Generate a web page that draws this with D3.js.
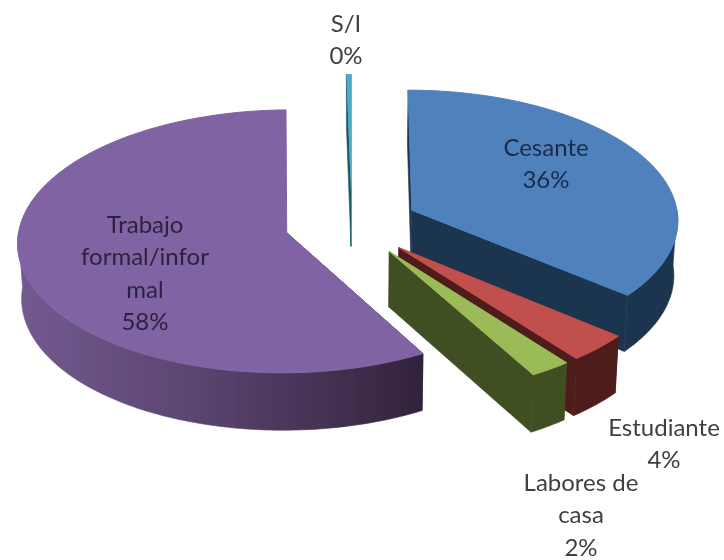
<!DOCTYPE html>
<html>
<head>
<meta charset="utf-8">
<script src="https://cdn.jsdelivr.net/npm/d3@7"></script>
<style>
  html, body { margin: 0; padding: 0; background: #fff; }
  svg { display: block; }
  text { font-family: Lato, "Open Sans", sans-serif; font-size: 24px; text-anchor: middle; dominant-baseline: middle; }
</style>
</head>
<body>
<div id="chart"></div>
<script>
// data, clockwise from 12 o'clock
var categories = ["Cesante", "Estudiante", "Labores de casa", "Trabajo formal/informal", "S/I"];
var values = [36, 3.5, 2.3, 57.9, 0.3];
var percentLabels = ["36%", "4%", "2%", "58%", "0%"];
var labelLines = [["Cesante"], ["Estudiante"], ["Labores de", "casa"], ["Trabajo", "formal/infor", "mal"], ["S/I"]];

var topColors = ["#4f81bd", "#c0504d", "#9bbb59", "#8064a2", "#4bacc6"];
var wallColors = ["#1f3550", "#4f1d1b", "#414f22", "url(#purpleWall)", "#1d5565"];

var width = 724, height = 560;
var centerX = 351.6, centerY = 224;
var R = 267, explode = 67, tilt = 0.486, depth = 55;
var persp = 0.066, floorShrink = 0.012;

var svg = d3.select("#chart").append("svg").attr("width", width).attr("height", height);
var defs = svg.append("defs");
defs.append("filter").attr("id", "soft").append("feGaussianBlur").attr("stdDeviation", 0.6);
var grad = defs.append("linearGradient").attr("id", "purpleWall").attr("gradientUnits", "userSpaceOnUse")
    .attr("x1", 17).attr("x2", 420).attr("y1", 0).attr("y2", 0);
grad.append("stop").attr("offset", "0%").attr("stop-color", "#735a90");
grad.append("stop").attr("offset", "45%").attr("stop-color", "#5a4470");
grad.append("stop").attr("offset", "100%").attr("stop-color", "#33233d");

// world point on the pie plane -> screen, floor=true gives the lower rim
function project(X, Y, floor) {
    var s = 1 / (1 - persp * Y / R);
    var f = floor ? 1 - floorShrink : 1;
    return [centerX + X * s * f, centerY + Y * tilt * s * f + (floor ? depth * s : 0)];
}

var pie = d3.pie().sort(null).value(function(d){ return d; });
var slices = pie(values);
var line = d3.line();

var marks = svg.append("g").attr("filter", "url(#soft)");

function sweep(a0, a1) {
    var steps = Math.max(2, Math.ceil((a1 - a0) * 60));
    return d3.range(steps + 1).map(function(k){ return a0 + (a1 - a0) * k / steps; });
}

// draw S/I first, it stands alone at the back
var order = [4, 0, 1, 2, 3];
order.forEach(function(i){
    var sl = slices[i];
    var mid = (sl.startAngle + sl.endAngle) / 2;
    var ox = explode * Math.sin(mid), oy = -explode * Math.cos(mid);

    function rim(a, floor) {
        return project(ox + R * Math.sin(a), oy - R * Math.cos(a), floor);
    }
    var apex = project(ox, oy, false), apexLow = project(ox, oy, true);
    var upper = sweep(sl.startAngle, sl.endAngle).map(function(a){ return rim(a, false); });

    // cut sides, the purple one at 12 o'clock looks away from us
    var cuts = i == 3 ? [sl.startAngle] : [sl.startAngle, sl.endAngle];
    cuts.forEach(function(a){
        var c = i == 3 ? "#33233d" : wallColors[i];
        marks.append("path")
            .attr("d", line([apex, rim(a, false), rim(a, true), apexLow]) + "Z")
            .attr("fill", c).attr("stroke", c).attr("stroke-width", 0.6);
    });
    // outer wall, only the front half of the rim can be seen
    var a0 = Math.max(sl.startAngle, Math.PI / 2), a1 = Math.min(sl.endAngle, Math.PI * 1.5);
    if (a1 > a0) {
        var front = sweep(a0, a1);
        var wallTop = front.map(function(a){ return rim(a, false); });
        var wallLow = front.map(function(a){ return rim(a, true); }).reverse();
        marks.append("path").attr("d", line(wallTop.concat(wallLow)) + "Z")
            .attr("fill", wallColors[i]).attr("stroke", wallColors[i]).attr("stroke-width", 0.6);
    }
    // top face
    marks.append("path").attr("d", line([apex].concat(upper)) + "Z")
        .attr("fill", topColors[i]).attr("stroke", topColors[i]).attr("stroke-width", i == 4 ? 0 : 1);
});

// label anchors in the same order as categories
var labelX = [546, 664, 581, 145, 346];
var labelY = [150, 430, 485, 227, 26];
var labelColor = ["#1d2c47", "#404040", "#404040", "#2c2340", "#404040"];
var lineGap = 32.3;

categories.forEach(function(c, i){
    var lines = labelLines[i].concat([percentLabels[i]]);
    var t = svg.append("text").attr("fill", labelColor[i]).attr("filter", "url(#soft)");
    lines.forEach(function(l, j){
        t.append("tspan").attr("x", labelX[i]).attr("y", labelY[i] + j * lineGap).text(l);
    });
});
</script>
</body>
</html>
